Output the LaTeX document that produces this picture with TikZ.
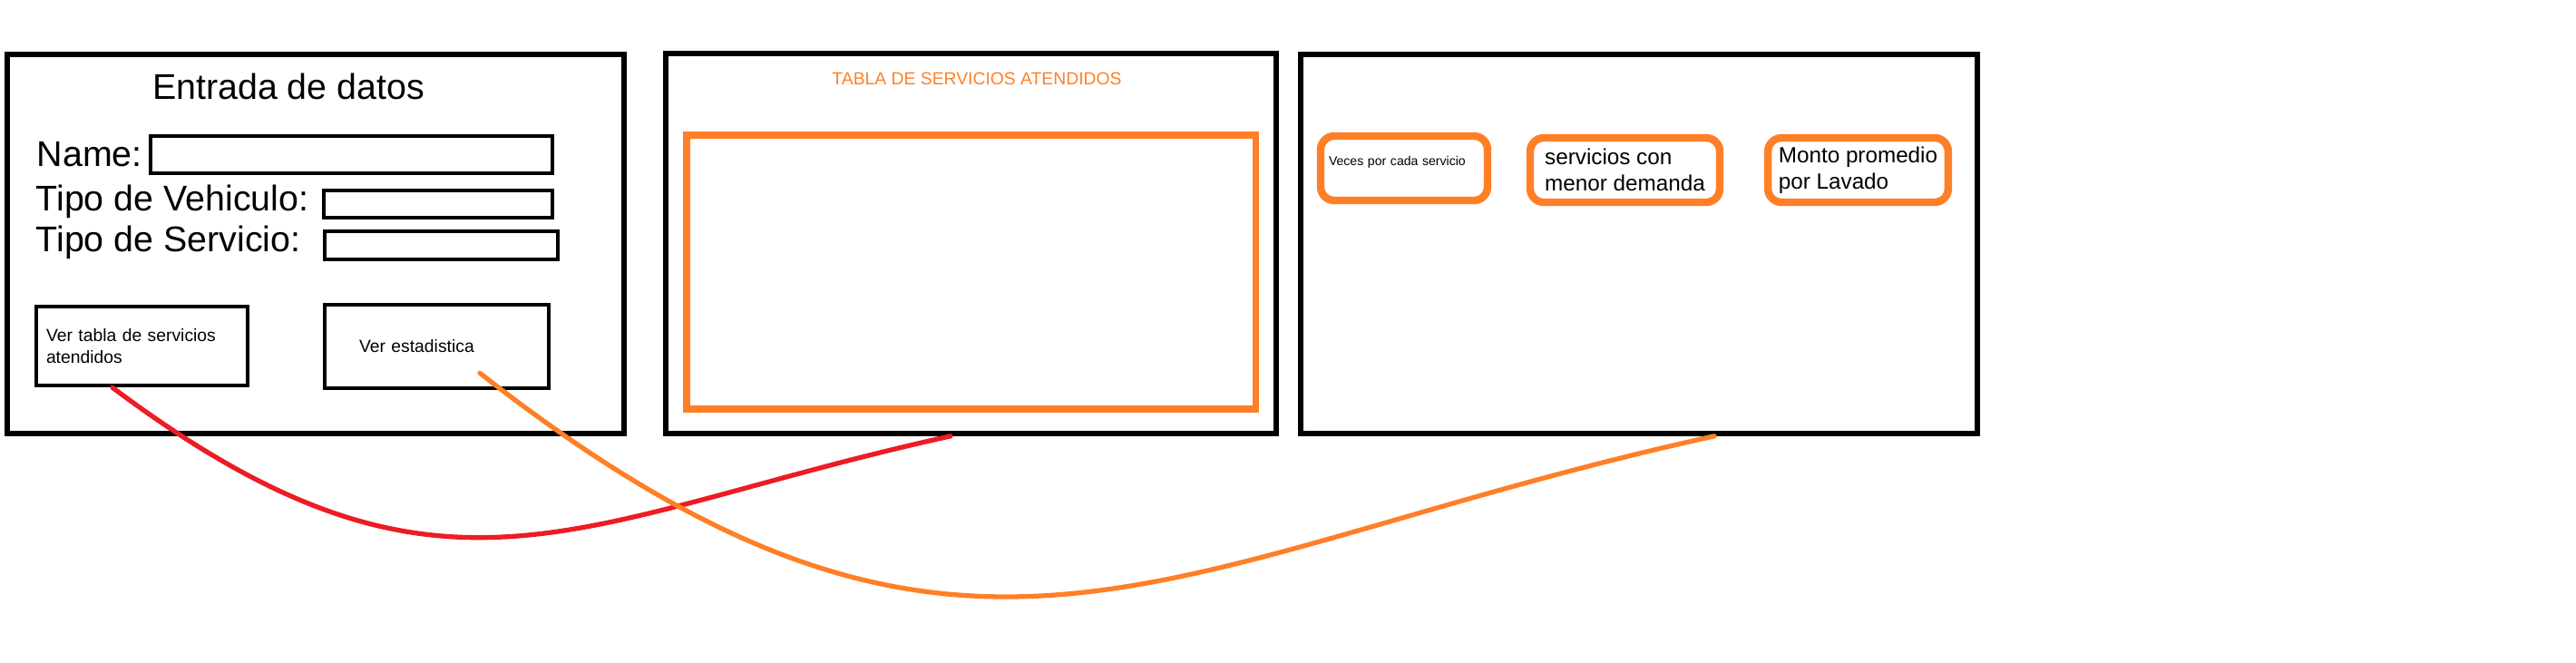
\documentclass[tikz,border=0pt]{standalone}
\usepackage{fontspec}
\setmainfont{Liberation Sans}
\usepackage{tikz}
\definecolor{paintorange}{HTML}{FF7F27}
\definecolor{paintred}{HTML}{ED1C24}

\begin{document}
\begin{tikzpicture}[panel node/.style={draw,line width=1.6pt,inner sep=0pt},
                    field node/.style={draw,line width=1.3pt,inner sep=0pt},
                    button node/.style={draw,line width=1.3pt,inner ysep=0pt,align=left,
                                        font=\fontsize{5.5}{6.8}\selectfont},
                    card node/.style={draw=paintorange,line width=2.4pt,rounded corners=0.15cm,
                                      inner ysep=0pt,minimum height=0.71cm,align=left,
                                      font=\fontsize{6.9}{8.25}\selectfont},
                    caption node/.style={inner sep=0pt,anchor=base west,font=\fontsize{11.2}{13}\selectfont},
                    link/.style={line width=1.5pt,line cap=round}]
  \useasboundingbox (0,0) rectangle (28.4,-7.3);
  % pantallas
  \node[panel node,minimum width=6.80cm,minimum height=4.18cm] (pDatos) at (3.48,-2.69) {};
  \node[panel node,minimum width=6.73cm,minimum height=4.19cm] (pTabla) at (10.705,-2.685) {};
  \node[panel node,minimum width=7.46cm,minimum height=4.18cm] (pStats) at (18.07,-2.69) {};

  % entrada de datos
  \node[caption node,anchor=base] (tDatos) at (3.18,-1.09) {Entrada de datos};
  \node[caption node] (lName) at (0.40,-1.83) {Name:};
  \node[caption node] (lVehiculo) at (0.39,-2.32) {Tipo de Vehiculo:};
  \node[caption node] (lServicio) at (0.39,-2.77) {Tipo de Servicio:};
  \node[field node,minimum width=4.43cm,minimum height=0.41cm] (fName) at (3.875,-1.705) {};
  \node[field node,minimum width=2.52cm,minimum height=0.30cm] (fVehiculo) at (4.83,-2.25) {};
  \node[field node,minimum width=2.57cm,minimum height=0.31cm] (fServicio) at (4.865,-2.705) {};
  \node[button node,minimum width=2.33cm,minimum height=0.87cm,inner xsep=0.11cm,text width=2.11cm]
      (btnTabla) at (1.565,-3.815) {Ver tabla de servicios\\atendidos};
  \node[button node,minimum width=2.47cm,minimum height=0.92cm,inner xsep=0.38cm,text width=1.71cm]
      (btnEst) at (4.815,-3.82) {Ver estadistica};

  % tabla
  \node[text=paintorange,font=\fontsize{5.5}{6.6}\selectfont,anchor=base] (tTabla) at (10.77,-0.93)
      {TABLA DE SERVICIOS ATENDIDOS};
  \node[draw=paintorange,line width=2pt,minimum width=6.27cm,minimum height=3.02cm] (grid) at (10.705,-3.00) {};

  % estadisticas
  \node[card node,minimum width=1.84cm,inner xsep=0.09cm,text width=1.66cm,text depth=0.17cm,
        font=\fontsize{4}{5}\selectfont] (cVeces) at (15.48,-1.855) {Veces por cada servicio};
  \node[card node,minimum width=2.09cm] (cMenor) at (17.915,-1.875) {servicios con\\menor demanda};
  \node[card node,minimum width=1.93cm] (cMonto) at (20.485,-1.875) {Monto promedio\\por Lavado};

  % enlaces entre pantallas
  \draw[link,paintred] ([xshift=-0.325cm]btnTabla.south)
      .. controls +(3.66,-2.74) and +(-4.18,-0.92) .. ([xshift=-0.225cm]pTabla.south);
  \draw[link,paintorange] ([xshift=0.475cm,yshift=0.19cm]btnEst.south)
      .. controls +(5.38,-4.21) and +(-6.15,-1.35) .. ([xshift=0.83cm]pStats.south);
\end{tikzpicture}
\end{document}
